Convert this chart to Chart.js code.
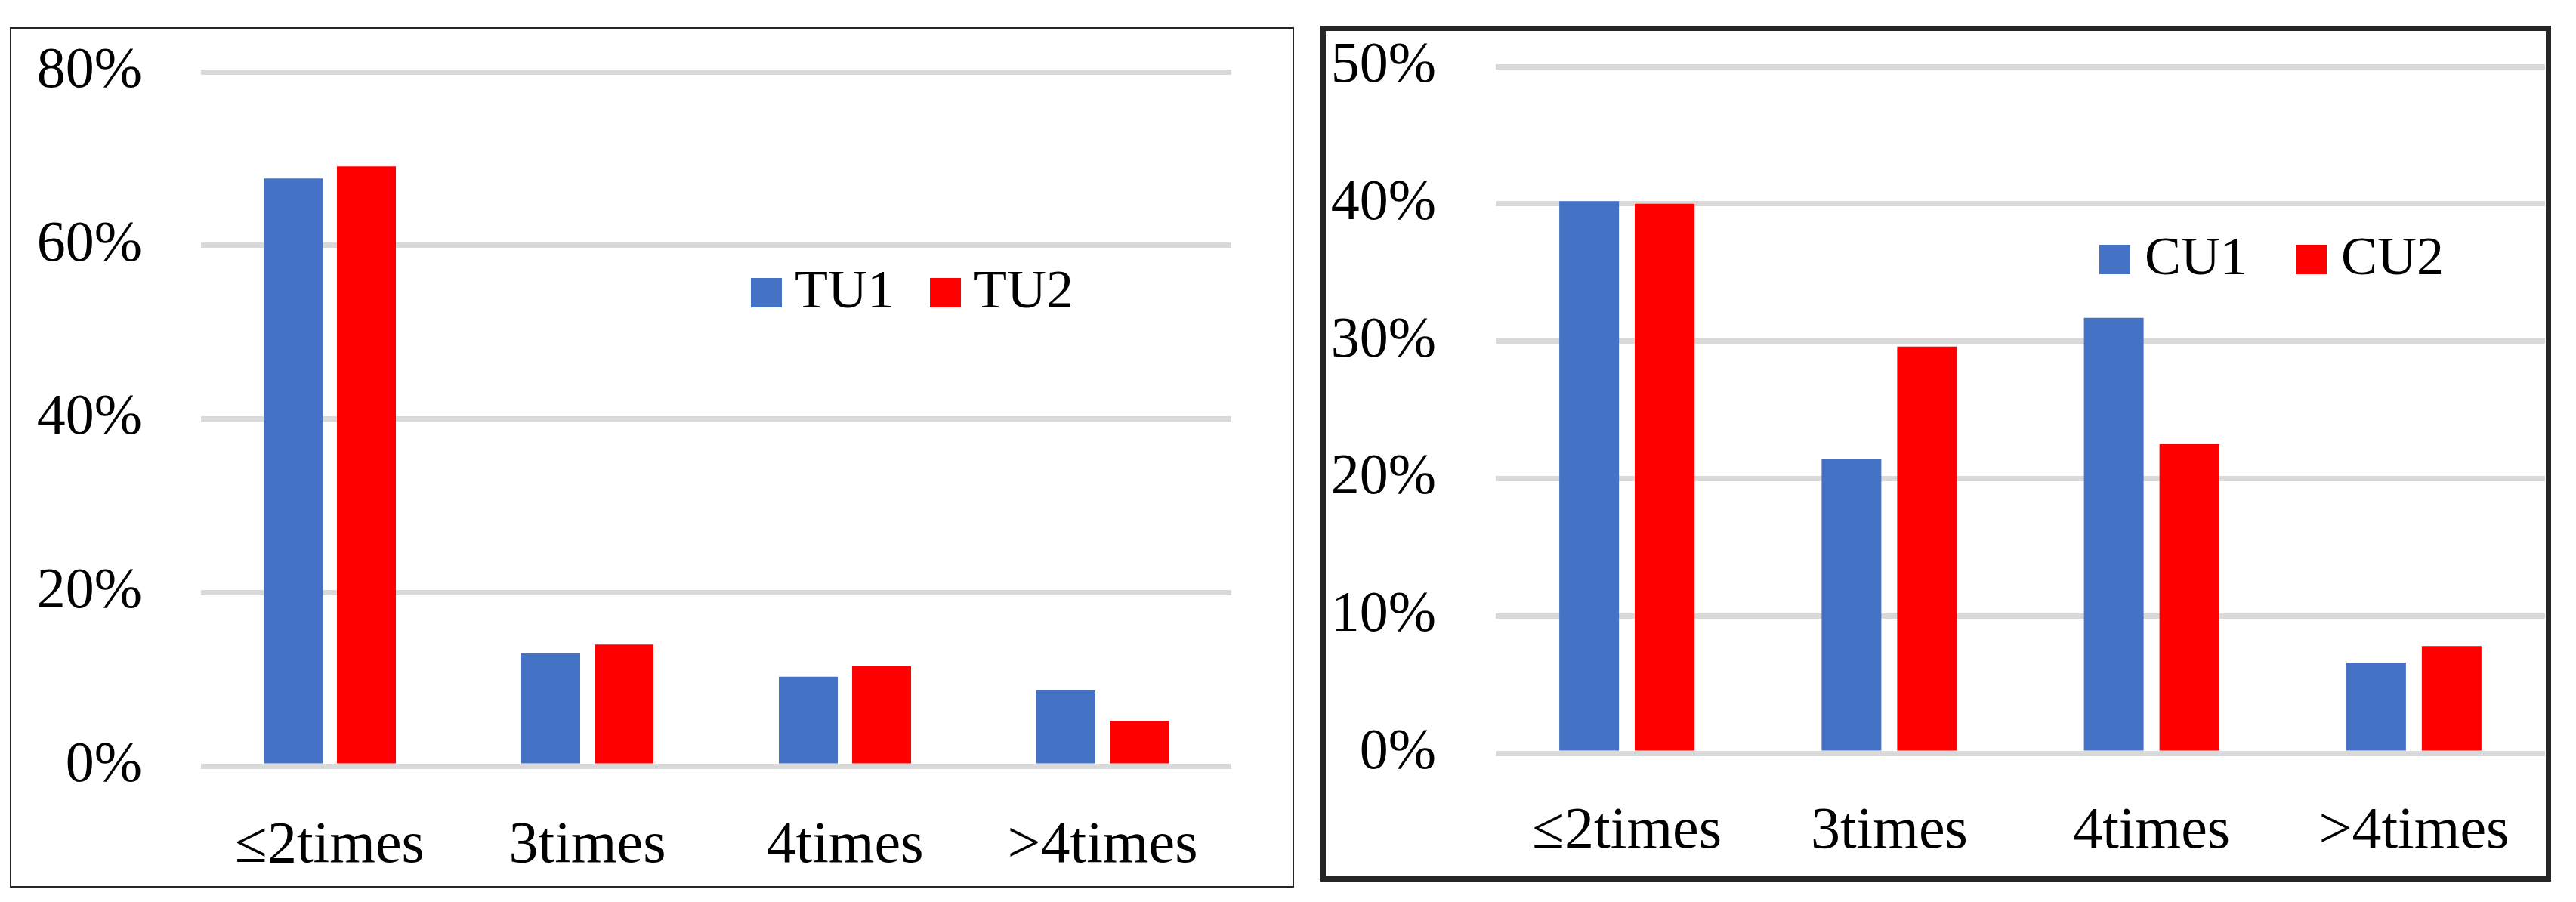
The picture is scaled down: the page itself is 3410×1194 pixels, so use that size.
<!DOCTYPE html>
<html>
<head>
<meta charset="utf-8">
<script src="https://cdn.jsdelivr.net/npm/chart.js@4"></script>
<style>
  html, body { margin:0; padding:0; background:#fff; }
  body { width:3410px; height:1194px; position:relative; overflow:hidden; }
  .panel { position:absolute; box-sizing:border-box; border-style:solid; border-color:#262626; }
  #p1 { left:13px; top:36px; width:1700px; height:1139px; border-width:2px; }
  #p2 { left:1748px; top:34px; width:1629px; height:1133px; border-width:7px; }
  canvas { position:absolute; top:0; }
  #c1 { left:0; }
  #c2 { left:1740px; }
</style>
</head>
<body>
<div class="panel" id="p1"></div>
<div class="panel" id="p2"></div>
<canvas id="c1" width="1740" height="1194"></canvas>
<canvas id="c2" width="1670" height="1194"></canvas>
<script>
// ---- data ----
const categories = ['≤2times', '3times', '4times', '>4times'];
const tu1 = [67.7, 13.0, 10.3, 8.7];
const tu2 = [69.1, 14.0, 11.5, 5.2];
const cu1 = [40.2, 21.4, 31.7, 6.6];
const cu2 = [40.0, 29.6, 22.5, 7.8];
const leftTickLabels = ['0%', '20%', '40%', '60%', '80%'];
const rightTickLabels = ['0%', '10%', '20%', '30%', '40%', '50%'];
const leftSeriesNames = ['TU1', 'TU2'];
const rightSeriesNames = ['CU1', 'CU2'];

const FAMILY = "'Liberation Serif', 'Times New Roman', serif";
const BLUE = '#4472c4';
const RED = '#ff0000';
Chart.defaults.font.family = FAMILY;
Chart.defaults.color = '#000';

const insideLegend = {
  id: 'insideLegend',
  afterDraw(chart, args, opts) {
    const ctx = chart.ctx;
    ctx.save();
    ctx.font = opts.fontSize + 'px ' + FAMILY;
    ctx.textBaseline = 'alphabetic';
    ctx.textAlign = 'left';
    chart.data.datasets.forEach((ds, i) => {
      const bx = opts.x + i * opts.step;
      ctx.fillStyle = ds.backgroundColor;
      ctx.fillRect(bx, opts.y, opts.boxW, opts.boxH);
      ctx.fillStyle = '#000';
      ctx.fillText(ds.label, bx + opts.textOffset, opts.y + opts.boxH);
    });
    ctx.restore();
  }
};

function makeChart(id, s1, s2, names, tickLabels, maxV, step, cfg) {
  return new Chart(document.getElementById(id), {
    type: 'bar',
    data: {
      labels: categories,
      datasets: [
        { label: names[0], data: s1, backgroundColor: BLUE,
          categoryPercentage: cfg.cp, barPercentage: cfg.bp },
        { label: names[1], data: s2, backgroundColor: RED,
          categoryPercentage: cfg.cp, barPercentage: cfg.bp }
      ]
    },
    options: {
      responsive: false,
      animation: false,
      devicePixelRatio: 1,
      layout: { padding: { top: cfg.top, right: cfg.right, bottom: 0, left: 0 } },
      plugins: {
        legend: { display: false },
        tooltip: { enabled: false },
        insideLegend: cfg.legend
      },
      scales: {
        x: {
          grid: { display: false, drawTicks: false },
          border: { display: false },
          ticks: { font: { size: 78 }, padding: cfg.xPad, maxRotation: 0, autoSkip: false },
          afterFit: (sc) => { sc.height = cfg.xH; }
        },
        y: {
          min: 0, max: maxV,
          grid: { color: '#d9d9d9', lineWidth: 7, drawTicks: false },
          border: { display: false },
          ticks: {
            stepSize: step,
            font: { size: 76, lineHeight: 0.2 },
            padding: cfg.yPad,
            callback: (v, i) => tickLabels[i]
          },
          afterFit: (sc) => { sc.width = cfg.yW; }
        }
      }
    },
    plugins: [insideLegend]
  });
}

makeChart('c1', tu1, tu2, leftSeriesNames, leftTickLabels, 80, 20, {
  cp: 0.569, bp: 0.804, top: 95, right: 110, xH: 180, yW: 266, xPad: 60, yPad: 78,
  legend: { x: 994, y: 368, boxW: 41, boxH: 39, step: 237, textOffset: 58, fontSize: 72 }
});
makeChart('c2', cu1, cu2, rightSeriesNames, rightTickLabels, 50, 10, {
  cp: 0.576, bp: 0.79, top: 88, right: 41, xH: 197, yW: 240, xPad: 58, yPad: 79,
  legend: { x: 1039, y: 324, boxW: 41, boxH: 39, step: 260, textOffset: 60, fontSize: 72 }
});
</script>
</body>
</html>
